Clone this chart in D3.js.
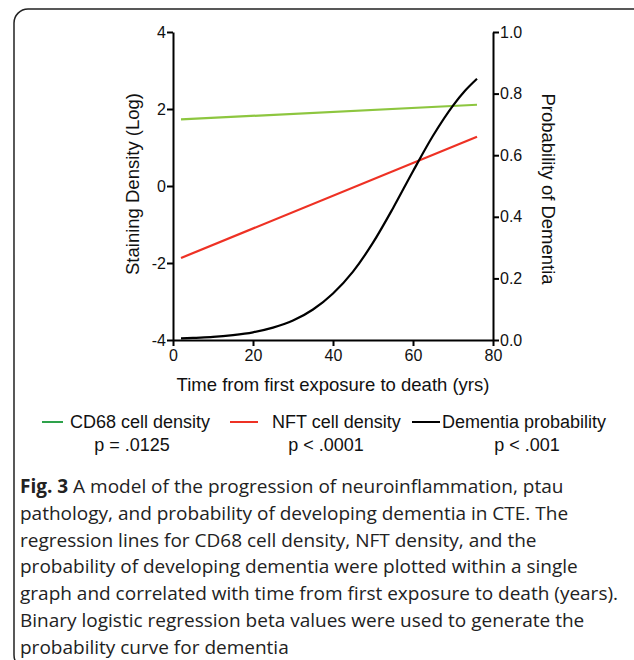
<!DOCTYPE html>
<html>
<head>
<meta charset="utf-8">
<script src="https://cdn.jsdelivr.net/npm/d3@7"></script>
<style>
  body { margin: 0; background: #fff; }
  svg { display: block; }
</style>
</head>
<body>
<svg id="chart" width="634" height="660"></svg>
<script>
// ---- data ----
const years = [2, 76];
const cd68Density = [1.73, 2.11];
const nftDensity = [-1.87, 1.28];
const dementiaYears = [2, 5, 10, 15, 20, 25, 30, 35, 40, 45, 50, 55, 60, 65, 70, 73, 76];
const dementiaProb = [0.005, 0.007, 0.010, 0.016, 0.025, 0.040, 0.063, 0.099, 0.151, 0.222, 0.316, 0.428, 0.548, 0.663, 0.761, 0.809, 0.848];
const xTicks = [0, 20, 40, 60, 80];
const yLeftTicks = [-4, -2, 0, 2, 4];
const yRightTicks = [0, 0.2, 0.4, 0.6, 0.8, 1.0];
const legendLabels = ["CD68 cell density", "NFT cell density", "Dementia probability"];
const legendP = ["p = .0125", "p < .0001", "p < .001"];
const captionBold = "Fig. 3";
const captionLines = [
  " A model of the progression of neuroinflammation, ptau",
  "pathology, and probability of developing dementia in CTE. The",
  "regression lines for CD68 cell density, NFT density, and the",
  "probability of developing dementia were plotted within a single",
  "graph and correlated with time from first exposure to death (years).",
  "Binary logistic regression beta values were used to generate the",
  "probability curve for dementia"
];

const svg = d3.select("#chart");
const F = "'Liberation Sans', Arial, sans-serif";

// frame
svg.append("rect").attr("x", 14).attr("y", 9).attr("width", 660).attr("height", 660)
  .attr("rx", 14).attr("fill", "none").attr("stroke", "#222").attr("stroke-width", 1.5);

const x = d3.scaleLinear().domain([0, 80]).range([173, 493]);
const yL = d3.scaleLinear().domain([-4, 4]).range([340, 32]);
const yR = d3.scaleLinear().domain([0, 1]).range([340, 32]);

function styleAxis(g) {
  g.selectAll("path").attr("stroke", "#000").attr("stroke-width", 2);
  g.selectAll("line").attr("stroke", "#000").attr("stroke-width", 2);
  g.selectAll("text").attr("font-family", F).attr("font-size", 16).attr("fill", "#111");
}

const gx = svg.append("g").attr("transform", "translate(0,340)")
  .call(d3.axisBottom(x).tickValues(xTicks).tickSize(6).tickSizeOuter(0).tickPadding(3));
styleAxis(gx);
gx.selectAll("text").attr("dy", "0.75em");

const gl = svg.append("g").attr("transform", "translate(173,0)")
  .call(d3.axisLeft(yL).tickValues(yLeftTicks).tickSize(6).tickSizeOuter(0).tickPadding(1)
    .tickFormat(d => d));
styleAxis(gl);

const gr = svg.append("g").attr("transform", "translate(493,0)")
  .call(d3.axisRight(yR).tickValues(yRightTicks).tickSize(6).tickSizeOuter(0).tickPadding(1)
    .tickFormat(d3.format(".1f")));
styleAxis(gr);

// axis titles
svg.append("text").attr("x", 333).attr("y", 391).attr("text-anchor", "middle")
  .attr("font-family", F).attr("font-size", 18.5).attr("fill", "#111")
  .text("Time from first exposure to death (yrs)");
svg.append("text").attr("transform", "translate(139,184) rotate(-90)").attr("text-anchor", "middle")
  .attr("font-family", F).attr("font-size", 18.5).attr("fill", "#111")
  .text("Staining Density (Log)");
svg.append("text").attr("transform", "translate(542,189) rotate(90)").attr("text-anchor", "middle")
  .attr("font-family", F).attr("font-size", 18.5).attr("fill", "#111")
  .text("Probability of Dementia");

// lines
const lineL = d3.line().x(d => x(d[0])).y(d => yL(d[1]));
svg.append("path").datum(years.map((t, i) => [t, cd68Density[i]]))
  .attr("d", lineL).attr("fill", "none").attr("stroke", "#8dc63f").attr("stroke-width", 2.2);
svg.append("path").datum(years.map((t, i) => [t, nftDensity[i]]))
  .attr("d", lineL).attr("fill", "none").attr("stroke", "#ee3124").attr("stroke-width", 2.2);
const lineR = d3.line().x(d => x(d[0])).y(d => yR(d[1])).curve(d3.curveMonotoneX);
svg.append("path").datum(dementiaYears.map((t, i) => [t, dementiaProb[i]]))
  .attr("d", lineR).attr("fill", "none").attr("stroke", "#000").attr("stroke-width", 2.2);

// legend
const legColors = ["#2ea24b", "#ee3124", "#000"];
const legSample = [[42, 63], [230, 258], [412, 440]];
const legTextX = [70, 272, 442];
const legPX = [132, 326, 527];
legendLabels.forEach((lab, i) => {
  svg.append("line").attr("x1", legSample[i][0]).attr("x2", legSample[i][1])
    .attr("y1", 422).attr("y2", 422).attr("stroke", legColors[i]).attr("stroke-width", 2);
  svg.append("text").attr("x", legTextX[i]).attr("y", 428).attr("font-family", F)
    .attr("font-size", 18).attr("fill", "#111").text(lab);
  svg.append("text").attr("x", legPX[i]).attr("y", 451).attr("text-anchor", "middle")
    .attr("font-family", F).attr("font-size", 18).attr("fill", "#111").text(legendP[i]);
});

// caption
const CF = "'Open Sans', sans-serif";
captionLines.forEach((ln, i) => {
  const t = svg.append("text").attr("x", 20).attr("y", 493 + i * 26.8)
    .attr("font-family", CF).attr("font-size", 19).attr("fill", "#222");
  if (i === 0) {
    t.append("tspan").attr("font-weight", "bold").text(captionBold);
  }
  t.append("tspan").text(ln);
});
</script>
</body>
</html>
